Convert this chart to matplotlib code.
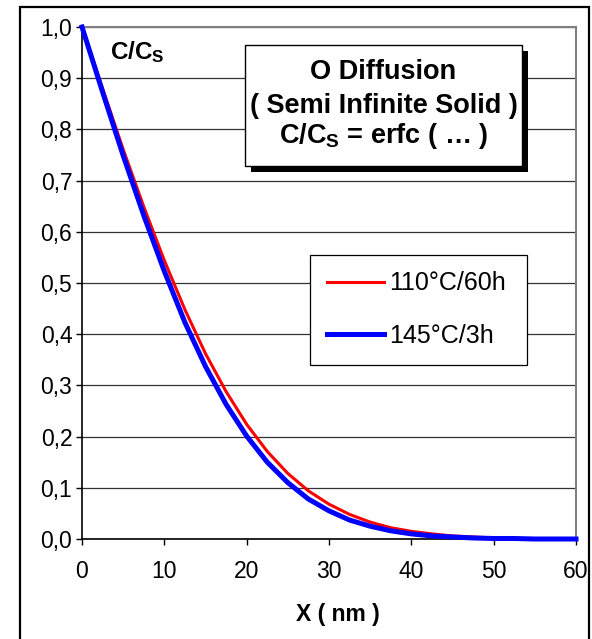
import numpy as np
import matplotlib
matplotlib.use('Agg')
import matplotlib.pyplot as plt
import matplotlib.ticker as ticker
from matplotlib.patches import Rectangle

plt.rcParams['font.family'] = ['Liberation Sans', 'DejaVu Sans']
plt.rcParams['mathtext.fontset'] = 'custom'
plt.rcParams['mathtext.rm'] = 'Liberation Sans'
plt.rcParams['mathtext.it'] = 'Liberation Sans:italic'
plt.rcParams['mathtext.bf'] = 'Liberation Sans:bold'

# depth (nm) and normalised concentration
x_nm = [0, 2.5, 5, 7.5, 10, 12.5, 15, 17.5, 20, 22.5, 25, 27.5, 30,
        32.5, 35, 37.5, 40, 42.5, 45, 47.5, 50, 52.5, 55, 57.5, 60]
c_110 = [1.000, 0.880, 0.761, 0.649, 0.544, 0.448, 0.362, 0.288, 0.224,
         0.171, 0.128, 0.094, 0.068, 0.048, 0.033, 0.022, 0.015, 0.010,
         0.006, 0.004, 0.002, 0.001, 0.001, 0.000, 0.000]
c_145 = [1.000, 0.873, 0.749, 0.632, 0.523, 0.423, 0.337, 0.263, 0.201,
         0.150, 0.110, 0.078, 0.055, 0.037, 0.025, 0.016, 0.010, 0.006,
         0.004, 0.002, 0.001, 0.001, 0.000, 0.000, 0.000]
labels = ['110°C/60h', '145°C/3h']
x_ticks = [0, 10, 20, 30, 40, 50, 60]
y_ticks = [0.0, 0.1, 0.2, 0.3, 0.4, 0.5, 0.6, 0.7, 0.8, 0.9, 1.0]

W, H = 592, 639
def fx(px):
    return px / W
def fy(py):
    return 1 - py / H

fig = plt.figure(figsize=(W / 100, H / 100), dpi=100)
ax = fig.add_axes([fx(82), fy(539), fx(576) - fx(82), fy(27) - fy(539)])

ax.plot(x_nm, c_110, color='#ff0000', lw=2.2, label=labels[0], clip_on=False, zorder=3)
ax.plot(x_nm, c_145, color='#0000ff', lw=3.6, label=labels[1], clip_on=False, zorder=4)

ax.set_xlim(0, 60)
ax.set_ylim(0, 1)
ax.set_xticks(x_ticks)
ax.set_yticks(y_ticks)
ax.yaxis.set_major_formatter(ticker.FuncFormatter(lambda v, p: f'{v:.1f}'.replace('.', ',')))
ax.tick_params(axis='both', direction='out', length=4, width=1, labelsize=16.5, colors='black')
ax.tick_params(axis='x', pad=11)
ax.tick_params(axis='y', pad=3)
ax.yaxis.grid(True, color='#333333', lw=0.9)
ax.set_axisbelow(True)
for s in ['left', 'bottom']:
    ax.spines[s].set_color('black')
    ax.spines[s].set_linewidth(1.2)
for s in ['top', 'right']:
    ax.spines[s].set_color('#808080')
    ax.spines[s].set_linewidth(1.5)

leg = ax.legend(loc='upper left', bbox_to_anchor=(fx(310), fy(365), fx(527) - fx(310), fy(255) - fy(365)),
                bbox_transform=fig.transFigure, mode='expand', borderaxespad=0,
                fontsize=18, handlelength=2.3, handletextpad=0.22, labelspacing=1.14,
                borderpad=0.66, fancybox=False, framealpha=1, edgecolor='black')
leg.get_frame().set_linewidth(0.9)

# outer chart border
fig.add_artist(Rectangle((fx(20), -0.02), fx(589) - fx(20), fy(7) + 0.02,
                         transform=fig.transFigure, fill=False, ec='black', lw=1.6))

# title box with shadow
bx0, bx1, by0, by1 = 245, 522, 45, 166
fig.add_artist(Rectangle((fx(bx0 + 6), fy(by1 + 6)), fx(bx1) - fx(bx0), fy(by0) - fy(by1),
                         transform=fig.transFigure, fc='black', ec='black', lw=0))
fig.add_artist(Rectangle((fx(bx0), fy(by1)), fx(bx1) - fx(bx0), fy(by0) - fy(by1),
                         transform=fig.transFigure, fc='white', ec='black', lw=1))
cx = fx((bx0 + bx1) / 2)
fig.text(cx, fy(79), 'O Diffusion', ha='center', va='baseline', fontsize=19.5, fontweight='bold')
fig.text(cx, fy(113), '( Semi Infinite Solid )', ha='center', va='baseline', fontsize=19.5, fontweight='bold')
fig.text(cx, fy(143), r'$\mathbf{C/C_S}$ = erfc ( … )', ha='center', va='baseline', fontsize=19.5, fontweight='bold')

fig.text(fx(110), fy(59), r'$\mathbf{C/C_S}$', ha='left', va='baseline', fontsize=17.5)
fig.text(fx(338), fy(621), 'X ( nm )', ha='center', va='baseline', fontsize=16.5, fontweight='bold')

fig.savefig('out.png', dpi=100)
